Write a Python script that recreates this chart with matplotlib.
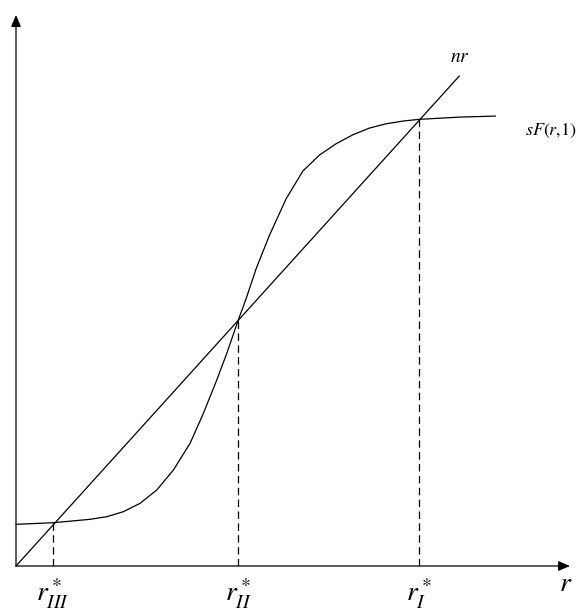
import matplotlib
matplotlib.use("Agg")
import matplotlib.pyplot as plt
from matplotlib.patches import FancyArrowPatch

plt.rcParams['mathtext.fontset'] = 'stix'
plt.rcParams['font.family'] = ['Liberation Serif', 'DejaVu Serif']

# sF(r,1): points
sf_r = [0.0, 0.835, 1.670, 2.047, 2.422, 2.799, 3.176, 3.551, 3.928, 4.228,
        4.530, 4.756, 5.011, 5.192, 5.418, 5.718, 6.095, 6.472, 6.847, 7.223,
        7.601, 7.975, 8.352, 8.729, 9.090, 10.023, 10.813]
sf_y = [0.941, 0.977, 1.054, 1.113, 1.226, 1.415, 1.716, 2.167, 2.770, 3.447,
        4.199, 4.801, 5.542, 6.034, 6.711, 7.465, 8.291, 8.916, 9.278, 9.533,
        9.736, 9.887, 9.984, 10.045, 10.084, 10.135, 10.158]

# nr line
nr_r = [0.0, 10.0]
nr_y = [0.0, 11.06]

# steady states
ss_r = [0.835, 5.011, 9.094]
ss_y = [0.97, 5.55, 10.09]
ss_labels = [r'$r^*_{III}$', r'$r^*_{II}$', r'$r^*_{I}$']

XMAX, YMAX = 12.5, 12.44

fig = plt.figure(figsize=(5.76, 6.10), dpi=100)
ax = fig.add_axes([16/576, 44/610, 554/576, 551/610])
ax.set_xlim(0, XMAX)
ax.set_ylim(0, YMAX)
ax.axis('off')

lw = 0.9
# axes arrows
for end in [(XMAX, 0), (0, YMAX)]:
    arr = FancyArrowPatch((0, 0), end, arrowstyle='-|>,head_length=0.7,head_width=0.3',
                          mutation_scale=10, color='black', lw=lw, clip_on=False,
                          shrinkA=0, shrinkB=0)
    ax.add_patch(arr)

ax.plot(nr_r, nr_y, color='black', lw=lw, clip_on=False)
ax.plot(sf_r, sf_y, color='black', lw=lw, clip_on=False,
        solid_joinstyle='round')

for x, y, lab in zip(ss_r, ss_y, ss_labels):
    ax.plot([x, x], [0, y], color='black', lw=lw, dashes=(6, 3.5))
    ax.text(x, -0.62, lab, ha='center', va='center', fontsize=20)

ax.text(10.02, 11.47, r'$nr$', ha='center', va='center', fontsize=14)
ax.text(11.48, 9.82, r'$sF(r,\!1)$', ha='left', va='center', fontsize=13, clip_on=False)
ax.text(12.4, -0.42, r'$r$', ha='center', va='center', fontsize=20)

fig.savefig('out.png', dpi=100)
